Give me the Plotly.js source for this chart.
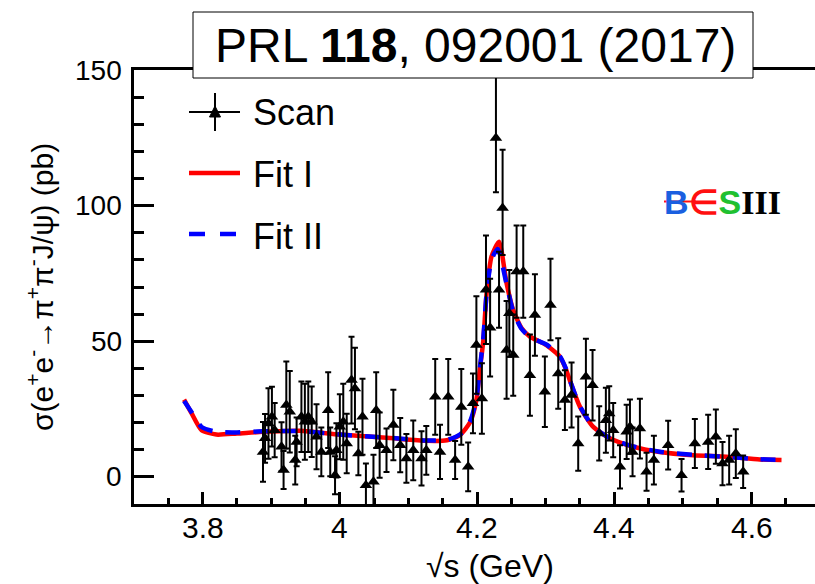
<!DOCTYPE html>
<html>
<head>
<meta charset="utf-8">
<script src="https://cdn.plot.ly/plotly-3.0.1.min.js"></script>
<style>html,body{margin:0;padding:0;background:#fff;}#chart{width:815px;height:584px;}</style>
</head>
<body>
<div id="chart"></div>
<script>
// Scan data: sqrt(s) (GeV), cross section (pb), upper / lower errors (pb)
var scanE = [3.888,3.891,3.896,3.901,3.905,3.915,3.918,3.922,3.927,3.935,3.937,3.944,3.949,3.954,3.959,3.966,3.973,3.983,3.986,3.993,3.995,4.000,4.005,4.010,4.017,4.022,4.027,4.033,4.038,4.049,4.053,4.058,4.068,4.078,4.088,4.097,4.107,4.119,4.126,4.139,4.146,4.158,4.168,4.177,4.187,4.194,4.199,4.207,4.213,4.219,4.2275,4.232,4.2372,4.243,4.247,4.2527,4.2576,4.2673,4.277,4.2843,4.2988,4.307,4.3183,4.328,4.3377,4.3474,4.3586,4.3683,4.378,4.3877,4.3926,4.3984,4.4083,4.418,4.4228,4.4266,4.4373,4.447,4.4577,4.4785,4.498,4.5174,4.5368,4.548,4.5577,4.5674,4.5771,4.5878];
var scanXS = [9.2,14.2,19.7,22.2,17.2,11.1,2.5,26.5,24.0,6.2,12.9,22.2,20.3,22.2,20.3,14.8,9.2,24.6,9.2,0.6,9.8,18.5,20.3,12.3,35.7,32.6,8.6,22.2,-3.1,-1.8,24.6,11.7,9.8,19.1,11.7,6.8,9.8,6.8,9.8,29.5,9.2,29.5,6.2,25.8,3.7,27.1,48.6,28.9,69.0,55.0,124.9,69.0,99.1,46.8,60.3,44.9,75.7,75.7,37.5,59.7,31.4,63.4,38.1,28.3,30.2,12.3,36.9,33.8,16.0,20.9,23.4,17.2,3.7,16.6,18.5,9.2,17.8,1.9,6.2,11.7,0.6,12.3,12.9,14.8,4.9,6.2,8.6,1.9];
var scanErrUp = [11,9,13,11,10,9,7,16,15,9,9,13,14,13,13,12,9,14,9,7,10,12,14,11,16,15,8,14,8,10,14,12,8,13,10,9,11,10,9,14,10,14,7,14,9,11,18,13,20,18,28,14,21.5,18,16,15,17,17,15,15,13,17,13,11,12,10,14,13,10,12,10,10,8,10,10,9,11,7,9,9,6,9,10,10,8,9,9,6];
var scanErrDn = [11,9,13,11,10,9,7,16,15,9,9,13,14,13,13,12,9,14,9,7,10,12,14,11,16,15,8,14,8,10,14,12,8,13,10,9,11,10,9,14,10,14,7,14,9,11,18,13,20,18,20,14,17.3,18,16,15,17,17,15,15,13,13,13,11,12,10,14,13,10,12,10,10,8,10,10,9,11,7,9,9,6,9,10,10,8,9,9,6];

// Fit curves
var fitE1 = [3.773,3.784,3.7985,3.82,3.85,3.888,3.942,4.0,4.073,4.126,4.156,4.175,4.19,4.199,4.204,4.209,4.214,4.221,4.232,4.243,4.2526,4.265,4.277,4.301,4.316,4.3207,4.330,4.335,4.350,4.369,4.3935,4.4275,4.466,4.515,4.5636,4.612,4.6437];
var fitXS1 = [28.5,23.4,17.2,15.6,16.0,16.6,17.0,15.6,14.3,13.3,13.5,15.4,20.2,28.3,39.4,50.0,68.0,81.2,86.7,71.4,61.5,54.8,51.7,48.6,45.5,44.3,39.4,35.7,25.8,18.5,14.2,11.1,9.2,8.0,7.4,6.4,6.2];
var fitE2 = [3.773,3.784,3.7985,3.82,3.85,3.888,3.942,4.0,4.073,4.126,4.156,4.175,4.19,4.199,4.204,4.209,4.214,4.221,4.230,4.243,4.2526,4.265,4.277,4.301,4.316,4.3207,4.330,4.335,4.350,4.369,4.3935,4.4275,4.466,4.515,4.5636,4.612,4.6437];
var fitXS2 = [28.0,23.8,18.4,16.6,16.4,16.8,16.9,15.6,14.4,13.4,13.6,15.6,20.6,28.8,40.0,51.0,68.0,80.0,84.0,71.0,61.0,54.5,51.5,48.8,45.8,44.5,39.6,35.8,26.0,18.6,14.3,11.2,9.3,8.1,7.4,6.5,6.3];

// Axis ticks and labels
var xTickVals = [3.8, 4.0, 4.2, 4.4, 4.6];
var xTickText = ['3.8', '4', '4.2', '4.4', '4.6'];
var yTickVals = [0, 50, 100, 150];
var yTickText = ['0', '50', '100', '150'];

var W = 815, H = 584, ML = 134, MR = 0, MT = 70, MB = 80;
var PW = W - ML - MR, PH = H - MT - MB;
function px(x){ return (x - ML) / PW; }
function py(y){ return (H - MB - y) / PH; }

var font = 'Liberation Sans, Arial, Helvetica, sans-serif';

var traces = [
  {x: fitE1, y: fitXS1, type: 'scatter', mode: 'lines', name: 'Fit I',
   line: {color: '#ff0000', width: 4.5, shape: 'spline', smoothing: 0.6}, showlegend: false, hoverinfo: 'skip'},
  {x: fitE2, y: fitXS2, type: 'scatter', mode: 'lines', name: 'Fit II',
   line: {color: '#0000ff', width: 4.5, dash: '15px,13px', shape: 'spline', smoothing: 0.6}, showlegend: false, hoverinfo: 'skip'},
  {x: scanE, y: scanXS, type: 'scatter', mode: 'markers', name: 'Scan',
   marker: {symbol: 'triangle-up', size: 11, color: '#000'},
   error_y: {type: 'data', symmetric: false, array: scanErrUp, arrayminus: scanErrDn, color: '#000', thickness: 2, width: 3},
   showlegend: false}
];

var shapes = [
  {type: 'rect', xref: 'paper', yref: 'paper', x0: px(193), x1: px(753), y0: py(12), y1: py(78),
   line: {color: '#000', width: 1}, fillcolor: '#fff', layer: 'above'},
  {type: 'line', xref: 'paper', yref: 'paper', x0: px(189), x1: px(240), y0: py(112), y1: py(112), line: {color: '#000', width: 2}},
  {type: 'line', xref: 'paper', yref: 'paper', x0: px(215), x1: px(215), y0: py(93), y1: py(131), line: {color: '#000', width: 2}},
  {type: 'path', xref: 'paper', yref: 'paper',
   path: 'M ' + px(209.5) + ' ' + py(117) + ' L ' + px(220.5) + ' ' + py(117) + ' L ' + px(215) + ' ' + py(106) + ' Z',
   fillcolor: '#000', line: {color: '#000', width: 1}},
  {type: 'line', xref: 'paper', yref: 'paper', x0: px(189), x1: px(240), y0: py(173), y1: py(173), line: {color: '#ff0000', width: 4.5}},
  {type: 'line', xref: 'paper', yref: 'paper', x0: px(189), x1: px(240), y0: py(234), y1: py(234), line: {color: '#0000ff', width: 4.5, dash: '16px,15px'}},
  {type: 'line', xref: 'paper', yref: 'paper', x0: px(664), x1: px(696), y0: py(201.5), y1: py(201.5), line: {color: '#ff1010', width: 2}}
];

var annotations = [
  {xref: 'paper', yref: 'paper', x: px(475), y: py(45), xanchor: 'center', yanchor: 'middle', showarrow: false,
   text: 'PRL <b>118</b>, 092001 (2017)', font: {family: font, size: 48, color: '#000'}},
  {xref: 'paper', yref: 'paper', x: px(251), y: py(113), xanchor: 'left', yanchor: 'middle', showarrow: false,
   text: 'Scan', font: {family: font, size: 36, color: '#000'}},
  {xref: 'paper', yref: 'paper', x: px(251), y: py(174), xanchor: 'left', yanchor: 'middle', showarrow: false,
   text: 'Fit I', font: {family: font, size: 36, color: '#000'}},
  {xref: 'paper', yref: 'paper', x: px(251), y: py(236), xanchor: 'left', yanchor: 'middle', showarrow: false,
   text: 'Fit II', font: {family: font, size: 36, color: '#000'}},
  {xref: 'paper', yref: 'paper', x: px(662), y: py(202), xanchor: 'left', yanchor: 'middle', showarrow: false,
   text: '<span style="color:#1a5fe0">B</span><span style="color:#ff1010">∈</span><span style="color:#20c030">S</span><span style="color:#000;font-family:Liberation Serif">III</span>',
   font: {family: font, size: 34, color: '#000', weight: 'bold'}},
  {xref: 'paper', yref: 'paper', x: px(40), y: py(287), xanchor: 'center', yanchor: 'middle', showarrow: false, textangle: -90,
   text: 'σ(e<sup>+</sup>e<sup>-</sup>→π<sup>+</sup>π<sup>-</sup>J/ψ) (pb)', font: {family: font, size: 30, color: '#000'}},
  {xref: 'paper', yref: 'paper', x: px(490), y: py(566), xanchor: 'center', yanchor: 'middle', showarrow: false,
   text: '√s (GeV)', font: {family: font, size: 32, color: '#000'}}
];
xTickVals.forEach(function(t, i){
  annotations.push({xref: 'x', yref: 'paper', x: t, y: py(527), xanchor: 'center', yanchor: 'middle', showarrow: false,
    text: xTickText[i], font: {family: font, size: 30, color: '#000'}});
});
yTickVals.forEach(function(t, i){
  annotations.push({xref: 'paper', yref: 'y', x: px(124), y: t, xanchor: 'right', yanchor: 'middle', showarrow: false,
    text: yTickText[i], font: {family: font, size: 28, color: '#000'}});
});

var layout = {
  width: W, height: H,
  margin: {l: ML, r: MR, t: MT, b: MB, pad: 0},
  paper_bgcolor: '#fff', plot_bgcolor: '#fff',
  showlegend: false,
  font: {family: font, color: '#000'},
  xaxis: {range: [3.70, 4.6925], tickmode: 'array', tickvals: xTickVals, showticklabels: false,
          ticks: 'inside', ticklen: 12, tickwidth: 2.5, tickcolor: '#000',
          minor: {tickmode: 'linear', tick0: 3.75, dtick: 0.05, ticks: 'inside', ticklen: 6, tickwidth: 2.5, tickcolor: '#000'},
          showline: true, linecolor: '#000', linewidth: 2.5, mirror: true, showgrid: false, zeroline: false, layer: 'above traces'},
  yaxis: {range: [-10, 150], tickmode: 'array', tickvals: yTickVals, showticklabels: false,
          ticks: 'inside', ticklen: 20, tickwidth: 2.5, tickcolor: '#000',
          minor: {tickmode: 'linear', tick0: 0, dtick: 10, ticks: 'inside', ticklen: 10, tickwidth: 2.5, tickcolor: '#000'},
          showline: true, linecolor: '#000', linewidth: 2.5, mirror: false, showgrid: false, zeroline: false, layer: 'above traces'},
  shapes: shapes,
  annotations: annotations
};

Plotly.newPlot('chart', traces, layout, {displayModeBar: false});
</script>
</body>
</html>
